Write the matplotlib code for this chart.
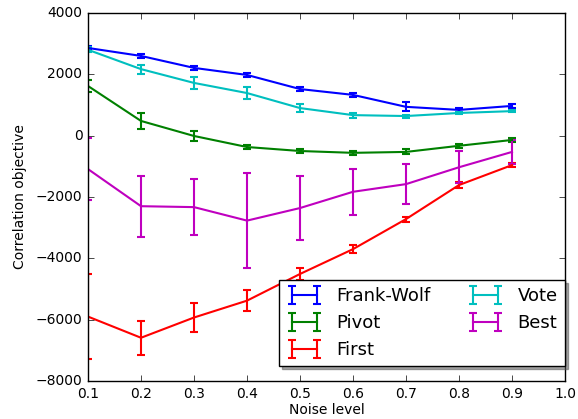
import matplotlib
matplotlib.use('Agg')
import matplotlib.pyplot as plt
import numpy as np

plt.style.use('classic')

noise = [0.1, 0.2, 0.3, 0.4, 0.5, 0.6, 0.7, 0.8, 0.9]

fw = [2860, 2600, 2210, 1980, 1520, 1330, 940, 840, 970]
fw_err = [60, 60, 60, 60, 60, 60, 150, 60, 60]

pivot = [1620, 480, -10, -370, -500, -560, -530, -330, -140]
pivot_err = [200, 250, 150, 80, 80, 60, 80, 60, 60]

first = [-5900, -6590, -5930, -5380, -4510, -3700, -2720, -1610, -960]
first_err = [1380, 550, 470, 350, 200, 120, 80, 90, 70]

vote = [2800, 2170, 1720, 1390, 900, 670, 640, 740, 800]
vote_err = [80, 150, 200, 200, 120, 80, 50, 40, 40]

best = [-1090, -2300, -2330, -2770, -2360, -1830, -1580, -1030, -530]
best_err = [1000, 1000, 910, 1550, 1040, 750, 650, 520, 390]

series = [
    ("Frank-Wolf", fw, fw_err, 'b'),
    ("Pivot", pivot, pivot_err, 'g'),
    ("First", first, first_err, 'r'),
    ("Vote", vote, vote_err, 'c'),
    ("Best", best, best_err, 'm'),
]

fig = plt.figure(figsize=(5.78, 4.19), dpi=100)
ax = fig.add_axes([88/578, 38/419, (565-88)/578, (381-13)/419])

for name, y, e, c in series:
    ax.errorbar(noise, y, yerr=e, color=c, lw=1.5, elinewidth=1.5,
                capsize=3, capthick=1.5, label=name)

ax.set_xlim(0.1, 1.0)
ax.set_ylim(-8000, 4000)
ax.set_xticks(np.arange(0.1, 1.01, 0.1))
ax.set_yticks(np.arange(-8000, 4001, 2000))
ax.set_xlabel("Noise level", fontsize=10, labelpad=2)
ax.set_ylabel("Correlation objective", fontsize=10, labelpad=6)
ax.tick_params(labelsize=10)

ax.legend(loc='lower right', ncol=2, shadow=True, fontsize=13,
          bbox_to_anchor=(1.0, 0.04), borderaxespad=0.0)

fig.savefig("out.png", dpi=100)
